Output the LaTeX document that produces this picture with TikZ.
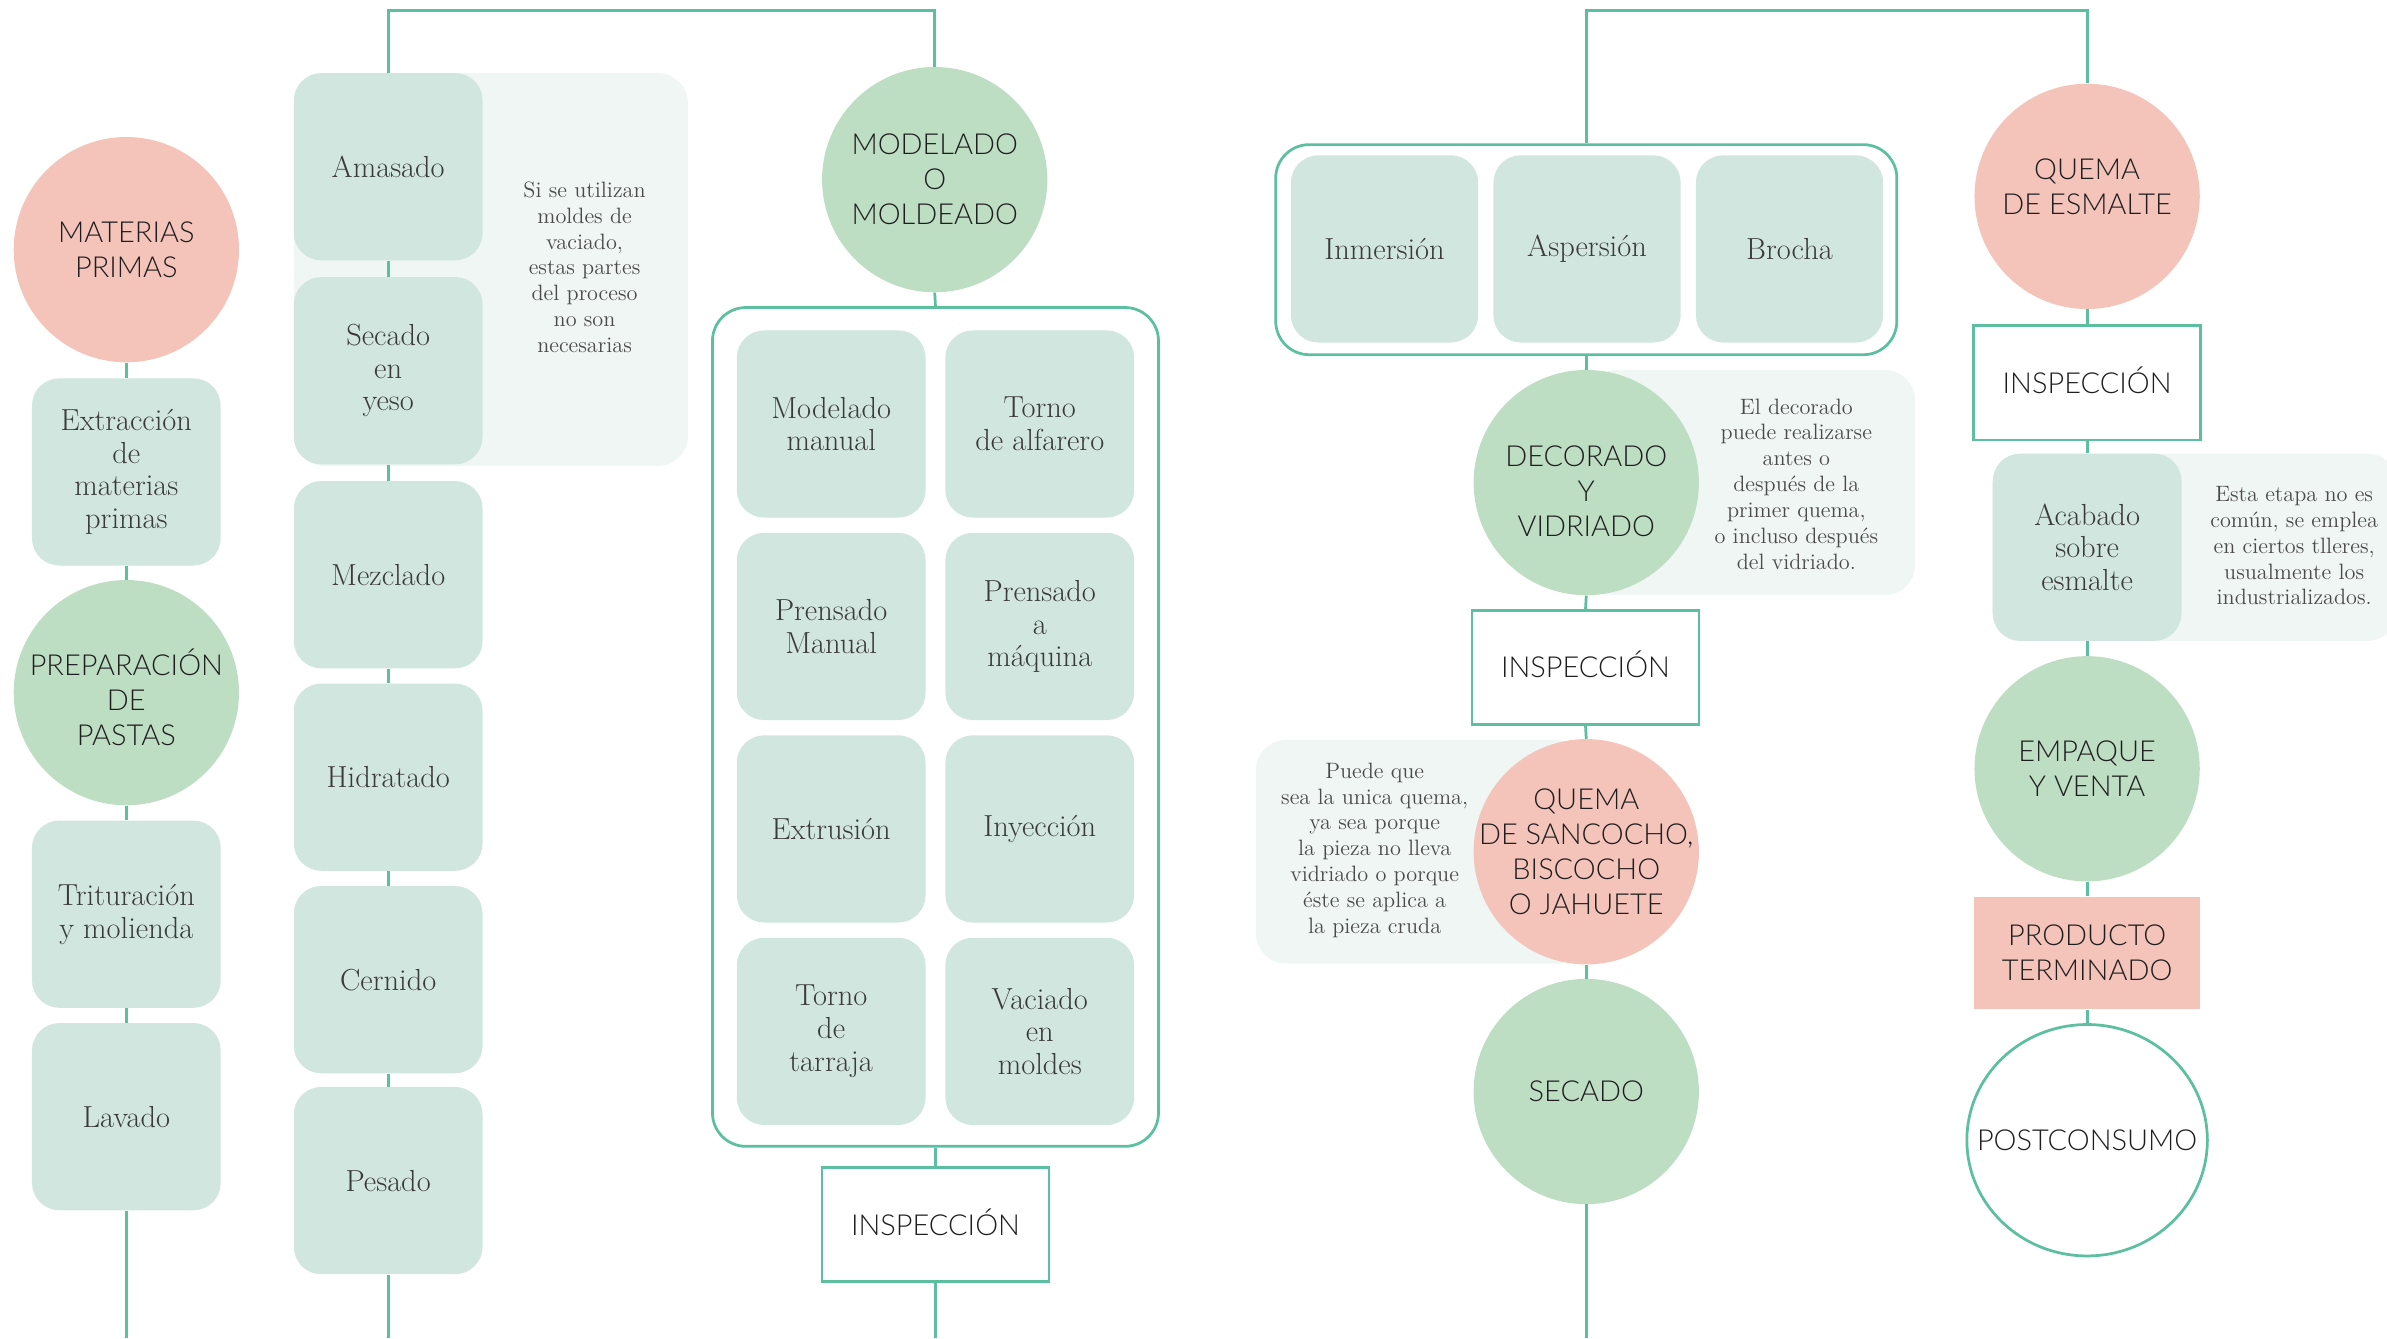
\documentclass[tikz,border=0pt]{standalone}
\usepackage{fontspec}
\usetikzlibrary{shapes.geometric}
\IfFontExistsTF{Lato Light}{\newfontfamily\headfont{Lato Light}}{\newfontfamily\headfont{Lato}}
\definecolor{tealc}{HTML}{5BBFA0}
\definecolor{pinkc}{HTML}{F4C4BA}
\definecolor{greenc}{HTML}{BEDEC4}
\definecolor{taskc}{HTML}{D1E6DE}
\definecolor{notec}{HTML}{EFF6F3}
\definecolor{headtxt}{HTML}{1E1E1E}
\definecolor{bodytxt}{HTML}{3A3A3A}
\definecolor{notetxt}{HTML}{4A4A4A}
\tikzset{
  conn/.style={draw=tealc, line width=1.8},
  headtext/.style={align=center, inner sep=0,
    font=\headfont\fontsize{19}{23}\selectfont, text=headtxt},
  stage/.style={headtext, circle, minimum size=148, inner sep=-40},
  pinkstage/.style={stage, fill=pinkc},
  greenstage/.style={stage, fill=greenc},
  task/.style={rectangle, rounded corners=18, fill=taskc, minimum width=124,
    minimum height=123, inner sep=0, align=center,
    font=\rmfamily\fontsize{20}{21.5}\selectfont, text=bodytxt},
  notebg/.style={rectangle, rounded corners=20, fill=notec, inner sep=0},
  notetext/.style={align=center, inner sep=0,
    font=\rmfamily\fontsize{14.6}{17}\selectfont, text=notetxt},
  inspect/.style={headtext, rectangle, draw=tealc, line width=1.8, fill=white,
    minimum width=149, minimum height=75, text height=13.7, text depth=0},
  groupbox/.style={rectangle, rounded corners=22, draw=tealc, line width=1.8,
    inner sep=0},
}
\begin{document}
\begin{tikzpicture}[x=1pt, y=-1pt]
\useasboundingbox (0,0) rectangle (1568,879);
\clip (0,0) rectangle (1568,879);

% --- note backgrounds ---
\node[notebg, minimum width=259, minimum height=258] (nbA) at (322.5,177) {};
\node[notebg, minimum width=216, minimum height=148] (nbB) at (1150,317) {};
\node[notebg, minimum width=217, minimum height=147] (nbC) at (933.5,559.5) {};
\node[notebg, minimum width=266, minimum height=123] (nbD) at (1442,359.5) {};

% --- column 1: raw materials and paste preparation ---
\node[pinkstage] (mat) at (83,164) {MATERIAS\\PRIMAS};
\node[task] (extr) at (83,310) {Extracción\\de\\materias\\primas};
\node[greenstage] (prep) at (83,455) {};
\node[headtext] (prepT) at (83,458) {PREPARACIÓN\\DE\\PASTAS};
\node[task] (trit) at (83,600.5) {Trituración\\y molienda};
\node[task] (lav) at (83,733.5) {Lavado};
\coordinate (endA) at (83,879);

% --- column 2: paste steps ---
\node[task] (amas) at (255,109.5) {Amasado};
\node[task] (secy) at (255,243.5) {Secado\\en\\yeso};
\node[task] (mezc) at (255,377.5) {Mezclado};
\node[task] (hidr) at (255,510.5) {Hidratado};
\node[task] (cern) at (255,643.5) {Cernido};
\node[task] (pesa) at (255,775.5) {Pesado};
\coordinate (endB) at (255,879);
\node[notetext] (noteA) at (384,175.5) {Si se utilizan\\moldes de\\vaciado,\\estas partes\\del proceso\\no son\\necesarias};

% --- column 3: forming ---
\node[greenstage] (mold) at (614,118) {MODELADO\\O\\MOLDEADO};
\node[groupbox, minimum width=293, minimum height=551] (formg) at (614.5,477.5) {};
\node[task] (f1) at (546,278.5) {Modelado\\manual};
\node[task] (f2) at (683,278.5) {Torno\\de alfarero};
\node[task] (f3) at (546,411.5) {Prensado\\Manual};
\node[task] (f4) at (683,411.5) {Prensado\\a\\máquina};
\node[task] (f5) at (546,544.5) {Extrusión};
\node[task] (f6) at (683,544.5) {Inyección};
\node[task] (f7) at (546,677.5) {Torno\\de\\tarraja};
\node[task] (f8) at (683,677.5) {Vaciado\\en\\moldes};
\node[inspect] (insA) at (614.5,804.5) {INSPECCIÓN};
\coordinate (endC) at (614.5,879);

% --- column 4: glazing and firing ---
\node[groupbox, minimum width=408, minimum height=138] (glaze) at (1042,164) {};
\node[task, minimum width=123] (g1) at (909.5,163.5) {Inmersión};
\node[task, minimum width=123] (g2) at (1042.5,163.5) {Aspersión};
\node[task, minimum width=123] (g3) at (1175.5,163.5) {Brocha};
\node[greenstage] (deco) at (1042,317) {};
\node[headtext] (decoT) at (1042,323) {DECORADO\\Y\\VIDRIADO};
\node[notetext] (noteB) at (1180,318) {El decorado\\puede realizarse\\antes o\\después de la\\primer quema,\\o incluso después\\del vidriado.};
\node[inspect] (insB) at (1041.5,438.5) {INSPECCIÓN};
\node[pinkstage] (sanc) at (1042,559.5) {QUEMA\\DE SANCOCHO,\\BISCOCHO\\O JAHUETE};
\node[notetext] (noteC) at (903,558.5) {Puede que\\sea la unica quema,\\ya sea porque\\la pieza no lleva\\vidriado o porque\\éste se aplica a\\la pieza cruda};
\node[greenstage] (seca) at (1042,717) {SECADO};
\coordinate (endD) at (1042,879);

% --- column 5: glaze firing to end of life ---
\node[pinkstage] (esm) at (1371,129) {};
\node[headtext] (esmT) at (1371,123) {QUEMA\\DE ESMALTE};
\node[inspect] (insC) at (1371,251.5) {INSPECCIÓN};
\node[task] (acab) at (1371,359.5) {Acabado\\sobre\\esmalte};
\node[notetext] (noteD) at (1507,358.5) {Esta etapa no es\\común, se emplea\\en ciertos tlleres,\\usualmente los\\industrializados.};
\node[greenstage] (empq) at (1371,505) {EMPAQUE\\Y VENTA};
\node[headtext, rectangle, fill=pinkc, minimum width=148,
  minimum height=74] (prod) at (1371,626) {PRODUCTO\\TERMINADO};
\node[headtext, ellipse, draw=tealc, line width=1.8, fill=white,
  minimum width=158, minimum height=152, inner sep=-40] (post) at (1371,749) {POSTCONSUMO};

% --- top brackets ---
\coordinate (topL) at (434,7);
\coordinate (topR) at (1206,7);

% --- connectors ---
\draw[conn] (mat.south) -- (extr.north);
\draw[conn] (extr.south) -- (prep.north);
\draw[conn] (prep.south) -- (trit.north);
\draw[conn] (trit.south) -- (lav.north);
\draw[conn] (lav.south) -- (endA);

\draw[conn] (amas.north) |- (topL) -| (mold.north);
\draw[conn] (amas.south) -- (secy.north);
\draw[conn] (secy.south) -- (mezc.north);
\draw[conn] (mezc.south) -- (hidr.north);
\draw[conn] (hidr.south) -- (cern.north);
\draw[conn] (cern.south) -- (pesa.north);
\draw[conn] (pesa.south) -- (endB);

\draw[conn] (mold.south) -- (formg.north);
\draw[conn] (formg.south) -- (insA.north);
\draw[conn] (insA.south) -- (endC);

\draw[conn] (glaze.north) |- (topR) -| (esm.north);
\draw[conn] (glaze.south) -- (deco.north);
\draw[conn] (deco.south) -- (insB.north);
\draw[conn] (insB.south) -- (sanc.north);
\draw[conn] (sanc.south) -- (seca.north);
\draw[conn] (seca.south) -- (endD);

\draw[conn] (esm.south) -- (insC.north);
\draw[conn] (insC.south) -- (acab.north);
\draw[conn] (acab.south) -- (empq.north);
\draw[conn] (empq.south) -- (prod.north);
\draw[conn] (prod.south) -- (post.north);
\end{tikzpicture}
\end{document}
